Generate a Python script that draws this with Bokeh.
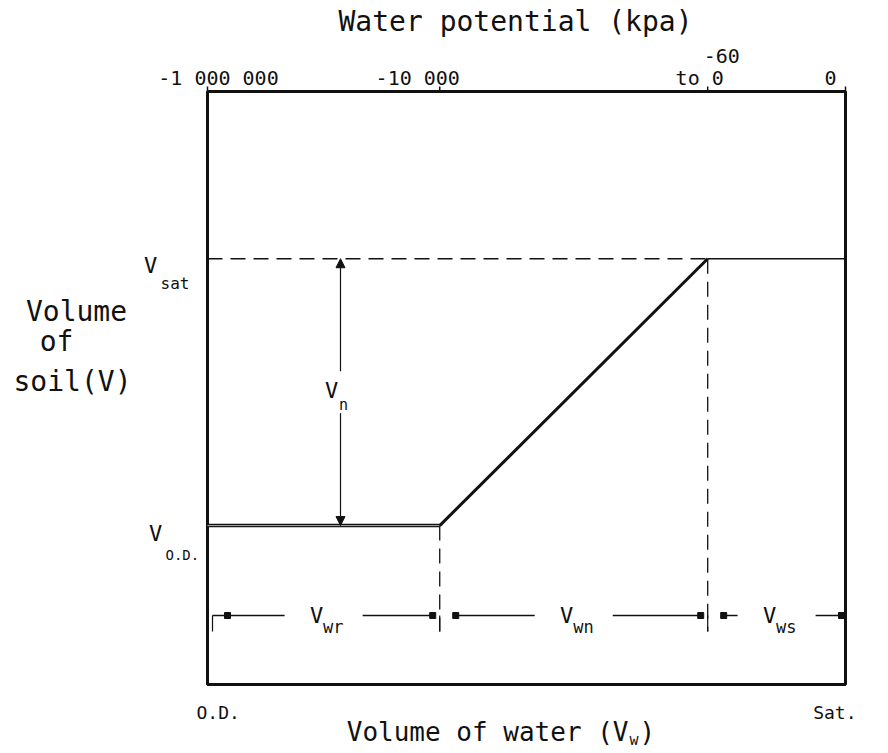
from bokeh.plotting import figure
from bokeh.models import Label, Range1d, Arrow, NormalHead
from bokeh.embed import file_html
from bokeh.resources import INLINE

# ---- data -------------------------------------------------------------
# Water content axis runs from oven dry (0) to saturation (100).
stage_bounds = [0, 36.4, 78.4, 100]          # O.D. | shrinkage limit | -60 kPa | Sat.
potential_labels = ["-1 000 000", "-10 000", "to 0", "0"]
potential_label_shift = [11, -22, -8, -15]   # px shift of each label from its tick
v_od = 26.8                                   # soil volume when oven dry
v_sat = 71.8                                  # soil volume at saturation
curve_x = [stage_bounds[0], stage_bounds[1], stage_bounds[2], stage_bounds[3]]
curve_y = [v_od, v_od, v_sat, v_sat]
stage_subscripts = ["wr", "wn", "ws"]

# ---- layout -----------------------------------------------------------
W, H = 888, 753
LEFT, RIGHT, TOP, BOTTOM = 207, 43, 91, 69   # position of the chart box on the page
SX = (W - LEFT - RIGHT) / 100.0
SY = (H - TOP - BOTTOM) / 100.0


def dx(px):
    return (px - LEFT) / SX


def dy(py):
    return (H - BOTTOM - py) / SY


FONT = "DejaVu Sans Mono"
INK = "#111111"

# the plotting frame spans the whole page so that all annotation text is drawn
p = figure(width=W, height=H, output_backend="svg", toolbar_location=None,
           x_range=Range1d(dx(0), dx(W)), y_range=Range1d(dy(H), dy(0)),
           x_axis_location=None, y_axis_location=None,
           min_border=0, min_border_left=0, min_border_right=0,
           min_border_top=0, min_border_bottom=0)
p.outline_line_color = None
p.background_fill_color = "white"
p.border_fill_color = "white"
p.grid.visible = False

# chart box and the water-potential tick marks on its top edge
p.quad(left=[stage_bounds[0]], right=[stage_bounds[-1]], bottom=[0], top=[100],
       fill_color=None, line_color=INK, line_width=3)
p.segment(x0=stage_bounds, y0=[100] * 4, x1=stage_bounds, y1=[100 + 5 / SY] * 4,
          line_color=INK, line_width=1.5)


def label(x, y, text, size, align="center", baseline="middle"):
    p.add_layout(Label(x=x, y=y, text=text, text_font=FONT,
                       text_font_size=f"{size}px", text_color=INK,
                       text_align=align, text_baseline=baseline))


# shrinkage curve
p.line(curve_x[:2], curve_y[:2], line_color=INK, line_width=3.5)
p.line(curve_x[:2], curve_y[:2], line_color="white", line_width=0.8, line_alpha=0.8)
p.line(curve_x[1:3], curve_y[1:3], line_color=INK, line_width=3)
p.line(curve_x[2:], curve_y[2:], line_color=INK, line_width=1.6)

# saturated volume reference line
p.line([stage_bounds[0], stage_bounds[2]], [v_sat, v_sat], line_color=INK,
       line_width=1.5, line_dash="15 8")

# vertical guides from the curve down to the water-volume brackets
row_y = dy(615)
guide_bottom = dy(631)
p.line([stage_bounds[1]] * 2, [v_od, guide_bottom], line_color=INK,
       line_width=1.3, line_dash="15 8")
p.line([stage_bounds[2]] * 2, [v_sat, guide_bottom], line_color=INK,
       line_width=1.3, line_dash="15 8")

# V_n double arrow
vn_x = dx(340)
mid = (v_od + v_sat) / 2
gap = 21 / SY
p.add_layout(Arrow(x_start=vn_x, y_start=mid + gap, x_end=vn_x, y_end=v_sat,
                   end=NormalHead(size=9, fill_color=INK, line_color=INK),
                   line_color=INK, line_width=1.2))
p.add_layout(Arrow(x_start=vn_x, y_start=mid - gap, x_end=vn_x, y_end=v_od,
                   end=NormalHead(size=9, fill_color=INK, line_color=INK),
                   line_color=INK, line_width=1.2))
label(vn_x - 9 / SX, mid + 2 / SY, "V", 22)
label(vn_x + 3 / SX, mid - 13 / SY, "n", 15)

# water-volume brackets along the bottom
sq_x, seg_x0, seg_x1 = [], [], []
half_text = 39 / SX
for i, sub in enumerate(stage_subscripts):
    a, b = stage_bounds[i], stage_bounds[i + 1]
    lo = a + (20 / SX if i == 0 else 16 / SX)
    hi = b - (4 / SX if i == len(stage_subscripts) - 1 else 7 / SX)
    c = (a + b) / 2
    sq_x += [lo, hi]
    seg_x0 += [lo, c + half_text]
    seg_x1 += [c - half_text, hi]
    label(c - 7 / SX, row_y, "V", 22)
    label(c - 0.5 / SX, row_y - 11 / SY, sub, 17, align="left")
p.segment(x0=seg_x0, y0=[row_y] * len(seg_x0), x1=seg_x1, y1=[row_y] * len(seg_x1),
          line_color=INK, line_width=1.5)
p.segment(x0=[dx(212)], y0=[row_y], x1=[sq_x[0]], y1=[row_y], line_color=INK, line_width=1.5)
p.segment(x0=[dx(212)], y0=[row_y], x1=[dx(212)], y1=[guide_bottom], line_color=INK, line_width=1.2)
p.segment(x0=[stage_bounds[1], stage_bounds[2]], y0=[row_y] * 2,
          x1=[stage_bounds[1], stage_bounds[2]], y1=[guide_bottom] * 2,
          line_color=INK, line_width=1.2)
p.scatter(x=sq_x, y=[row_y] * len(sq_x), marker="square", size=6,
          fill_color=INK, line_color=INK)

# top axis labels
for t, txt, sh in zip(stage_bounds, potential_labels, potential_label_shift):
    label(t + sh / SX, dy(77), txt, 20)
label(stage_bounds[2] + 14 / SX, dy(55), "-60", 20)
label(dx(515), dy(21), "Water potential (kpa)", 28)

# left side labels
label(dx(76), dy(311), "Volume", 28)
label(dx(56), dy(341), "of", 28)
label(dx(72), dy(381), "soil(V)", 28)
label(dx(150), v_sat - 7 / SY, "V", 22)
label(dx(160), v_sat - 25 / SY, "sat", 16, align="left")
label(dx(155), v_od - 8 / SY, "V", 22)
label(dx(165), v_od - 29 / SY, "O.D.", 14, align="left")

# bottom labels
label(dx(196), dy(712), "O.D.", 18, align="left")
label(dx(856), dy(712), "Sat.", 18, align="right")
bt_x = dx(628)
label(bt_x, dy(731), "Volume of water (V", 26, align="right")
label(bt_x + 1 / SX, dy(739), "w", 15, align="left")
label(bt_x + 11 / SX, dy(731), ")", 26, align="left")

open("out.html", "w").write(file_html(p, INLINE))
